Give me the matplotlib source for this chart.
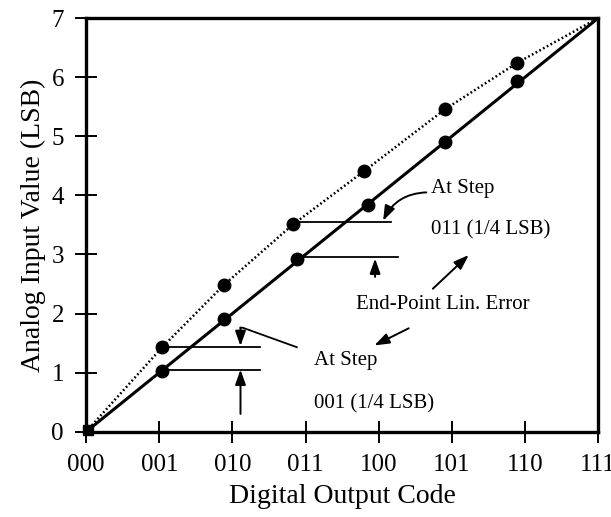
import matplotlib
matplotlib.use("Agg")
import matplotlib.pyplot as plt
from matplotlib.patches import FancyArrowPatch

plt.rcParams['font.family'] = ['Liberation Serif', 'DejaVu Serif']

# Data
code_labels = ['000', '001', '010', '011', '100', '101', '110', '111']
y_labels = ['0', '1', '2', '3', '4', '5', '6', '7']
ideal_x = [0, 7]
ideal_y = [0, 7]
actual_x = [0, 1.04, 1.88, 2.83, 3.80, 4.91, 5.89, 7]
actual_y = [0, 1.43, 2.48, 3.51, 4.41, 5.46, 6.24, 7]
dots_actual_x = [1.04, 1.88, 2.83, 3.80, 4.91, 5.89]
dots_actual_y = [1.43, 2.48, 3.51, 4.41, 5.46, 6.24]
dots_ideal_x = [1.04, 1.88, 2.88, 3.85, 4.91, 5.89]
dots_ideal_y = [1.02, 1.90, 2.93, 3.84, 4.91, 5.94]

fig = plt.figure(figsize=(6.11, 5.17), dpi=100)
ax = fig.add_axes([0.141, 0.165, 0.838, 0.800])

ax.plot(ideal_x, ideal_y, color='black', lw=2.2, solid_capstyle='butt')
ax.plot(actual_x, actual_y, color='black', lw=1.8, linestyle=(0, (0.7, 1.0)))
ax.plot(dots_ideal_x, dots_ideal_y, 'o', color='black', ms=9)
ax.plot(dots_actual_x, dots_actual_y, 'o', color='black', ms=9)
ax.plot([0.03], [0.03], 's', color='black', ms=7, clip_on=False)

# step-error bars
ax.plot([1.04, 2.37], [1.43, 1.43], color='black', lw=1.3)
ax.plot([1.04, 2.37], [1.05, 1.05], color='black', lw=1.3)
ax.plot([2.83, 4.17], [3.55, 3.55], color='black', lw=1.3)
ax.plot([2.88, 4.27], [2.95, 2.95], color='black', lw=1.3)

def arrow(p0, p1, rad=0.0):
    a = FancyArrowPatch(p0, p1, arrowstyle='-|>,head_length=0.9,head_width=0.32',
                        mutation_scale=10,
                        color='black', lw=1.4,
                        connectionstyle=f'arc3,rad={rad}', shrinkA=0, shrinkB=0)
    ax.add_patch(a)

# 001 group
ax.plot([2.88, 2.14, 2.11], [1.43, 1.76, 1.76], color='black', lw=1.3)
arrow((2.11, 1.76), (2.11, 1.45))
arrow((2.11, 0.30), (2.11, 1.05))
# 011 group
arrow((4.65, 4.05), (4.06, 3.57), rad=0.3)
arrow((3.95, 2.62), (3.95, 2.93))
# end-point arrows
arrow((4.74, 2.42), (5.23, 2.99))
arrow((4.41, 1.75), (3.94, 1.46))

fs_note = 15
ax.text(4.72, 4.12, 'At Step', fontsize=fs_note, va='center', ha='left')
ax.text(4.72, 3.42, '011 (1/4 LSB)', fontsize=fs_note, va='center', ha='left')
ax.text(4.88, 2.16, 'End-Point Lin. Error', fontsize=fs_note, va='center', ha='center')
ax.text(3.12, 1.20, 'At Step', fontsize=fs_note, va='center', ha='left')
ax.text(3.12, 0.47, '001 (1/4 LSB)', fontsize=fs_note, va='center', ha='left')

ax.set_xlim(0, 7)
ax.set_ylim(0, 7)
ax.set_xticks(range(8))
ax.set_xticklabels(code_labels)
ax.set_yticks(range(8))
ax.set_yticklabels(y_labels)
ax.tick_params(direction='inout', length=16, width=1.4, labelsize=18)
ax.tick_params(axis='x', pad=8)
ax.tick_params(axis='y', pad=8)
for s in ax.spines.values():
    s.set_linewidth(2.4)
ax.set_xlabel('Digital Output Code', fontsize=20, labelpad=6)
ax.set_ylabel('Analog Input Value (LSB)', fontsize=20, labelpad=4)

fig.savefig('out.png', dpi=100)
